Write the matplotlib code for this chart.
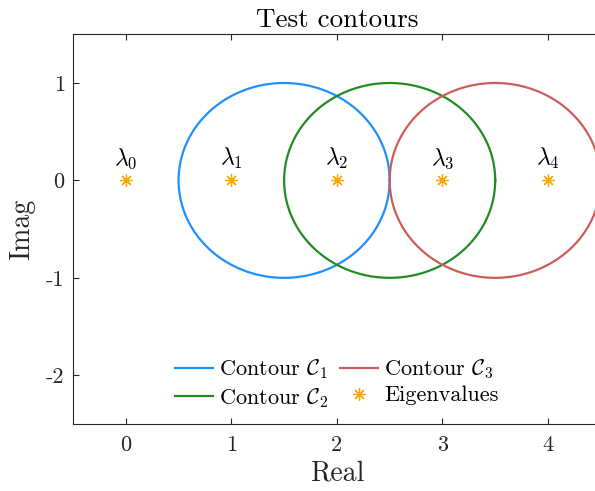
import numpy as np
import matplotlib
matplotlib.use('Agg')
import matplotlib.pyplot as plt

plt.rcParams['font.family'] = 'cmr10'
plt.rcParams['mathtext.fontset'] = 'cm'
plt.rcParams['axes.unicode_minus'] = False

# data
centers = [1.5, 2.5, 3.5]
radius = 1.0
contour_labels = [r'Contour $\mathcal{C}_1$', r'Contour $\mathcal{C}_2$', r'Contour $\mathcal{C}_3$']
contour_colors = ['#1e90ff', '#228b22', '#cd5c5c']
eig_real = [0, 1, 2, 3, 4]
eig_imag = [0, 0, 0, 0, 0]
eig_names = [r'$\lambda_0$', r'$\lambda_1$', r'$\lambda_2$', r'$\lambda_3$', r'$\lambda_4$']
xticks = [0, 1, 2, 3, 4]
yticks = [-2, -1, 0, 1]
ytick_labels = ['-2', '-1', '0', '1']

fig = plt.figure(figsize=(5.95, 4.91), dpi=100)
ax = fig.add_axes([0.1227, 0.1365, 0.8870, 0.7937])

t = np.linspace(0, 2 * np.pi, 400)
for c, lab, col in zip(centers, contour_labels, contour_colors):
    ax.plot(c + radius * np.cos(t), radius * np.sin(t), color=col, lw=1.6, label=lab)

ax.plot(eig_real, eig_imag, ls='none', marker=(8, 2, 0), ms=9, mew=0.9,
        color='#ffa500', label='Eigenvalues')
for xr, yi, name in zip(eig_real, eig_imag, eig_names):
    ax.text(xr, yi + 0.22, name, ha='center', va='center', fontsize=17, color='#000000')

ax.set_xlim(-0.5, 4.5)
ax.set_ylim(-2.5, 1.5)
ax.set_xticks(xticks)
ax.set_yticks(yticks)
ax.set_yticklabels(ytick_labels)
ax.tick_params(direction='in', top=True, right=True, labelsize=16, colors='#262626',
               length=4)
ax.tick_params(axis='x', pad=8)
ax.tick_params(axis='y', pad=6)
for s in ax.spines.values():
    s.set_color('#262626')
    s.set_linewidth(0.8)

ax.set_xlabel('Real', fontsize=20, color='#262626', labelpad=4)
ax.set_ylabel('Imag', fontsize=20, color='#262626', labelpad=8)
ax.set_title('Test contours', fontsize=19.5, pad=5)

ax.legend(loc='lower center', ncol=2, frameon=False, fontsize=16,
          handlelength=1.7, handletextpad=0.3, columnspacing=0.5, labelspacing=0.2,
          borderaxespad=0.25)

fig.savefig('out.png', dpi=100)
